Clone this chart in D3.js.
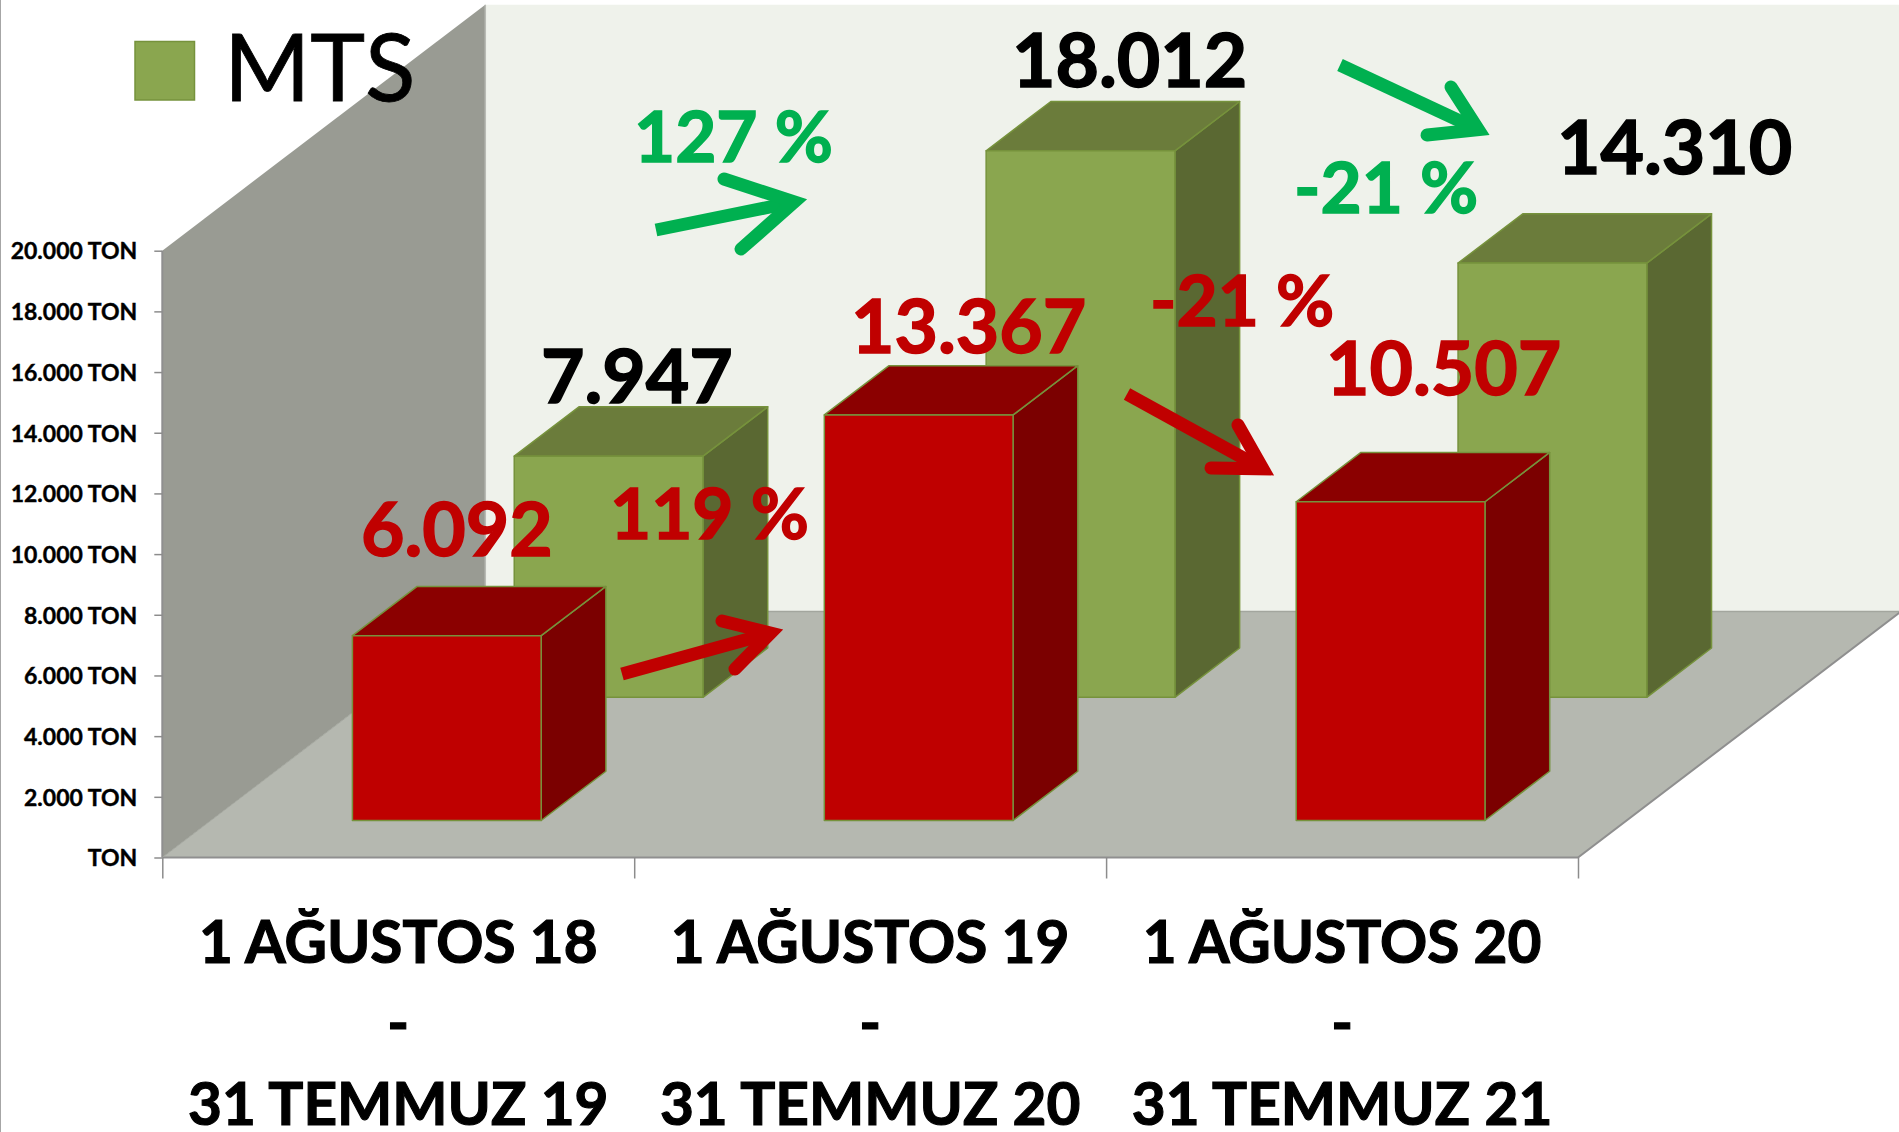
<!DOCTYPE html>
<html>
<head>
<meta charset="utf-8">
<script src="https://cdn.jsdelivr.net/npm/d3@7"></script>
<style>
  html, body { margin: 0; padding: 0; background: #fff; overflow: hidden; }
  svg { display: block; }
  text { font-family: Lato, "Open Sans", sans-serif; }
  .axis path { display: none; }
  .axis line { stroke: #8c8c8c; stroke-width: 1.5; }
</style>
</head>
<body>
<svg id="chart" width="1899" height="1132"></svg>
<script>
const category_starts = ["1 AĞUSTOS 18", "1 AĞUSTOS 19", "1 AĞUSTOS 20"];
const category_ends = ["31 TEMMUZ 19", "31 TEMMUZ 20", "31 TEMMUZ 21"];
const mts_values = [7947, 18012, 14310];
const red_values = [6092, 13367, 10507];
const y_ticks = [0, 2000, 4000, 6000, 8000, 10000, 12000, 14000, 16000, 18000, 20000];
const legend_name = "MTS";

// hand placed notes of the slide, they do not follow any scale
const pct_notes = [
  {text: "127 %", x: 634, y: 162, color: "#00b050"},
  {text: "-21 %", x: 1294, y: 213, color: "#00b050"},
  {text: "119 %", x: 610, y: 539, color: "#c00000"},
  {text: "-21 %", x: 1150, y: 326, color: "#c00000"},
];
const arrow_notes = [
  {from: [656, 230], tip: [809, 199], wings: [[724, 179], [741, 249]], color: "#00b050"},
  {from: [1340, 65], tip: [1492, 136], wings: [[1451, 87], [1427, 135]], color: "#00b050"},
  {from: [622, 674], tip: [785, 629], wings: [[722, 621], [735, 669]], color: "#c00000"},
  {from: [1127, 394], tip: [1276, 476], wings: [[1238, 425], [1211, 468]], color: "#c00000"},
];
const value_label_pos = {
  mts: [[541, 403], [1012, 87], [1557, 174]],
  red: [[361, 556], [851, 353], [1326, 395]],
};

const fmt = d3.formatLocale({decimal: ",", thousands: ".", grouping: [3], currency: ["", ""]}).format(",d");

const left = 162.3, right = 1578, y_base = 857.5, y_top = 250.7;
const depth_x = 323, depth_y = 246;

const y = d3.scaleLinear().domain([0, 20000]).range([y_base, y_top]);
const x = d3.scaleBand().domain(d3.range(3)).range([left, right]).paddingInner(0.6).paddingOuter(0.3);
const x_edges = d3.scaleLinear().domain([0, 3]).range([left, right]);
const z = d3.scaleBand().domain(["red", "mts"]).range([0, 1.002]).paddingInner(0.6).paddingOuter(0.3);

function project(px, value, depth) {
  return [px + depth * depth_x, y(value) - depth * depth_y];
}

let svg = d3.select("#chart");

// Lato bold is lighter than the original face, so thicken it with a stroke
function bold(sel, size, color, weight) {
  sel.attr("font-size", size).attr("font-weight", 700)
    .attr("fill", color).attr("stroke", color).attr("stroke-width", weight);
}

function polygon(points, fill, stroke) {
  svg.append("polygon")
    .attr("points", points.map((p) => p.join(",")).join(" "))
    .attr("fill", fill)
    .attr("stroke", stroke || "none")
    .attr("stroke-width", stroke ? 1.5 : 0)
    .attr("stroke-linejoin", "round");
}

// Room: back wall, left wall, floor
polygon([project(left, 20000, 1), [1899, project(left, 20000, 1)[1]], [1899, project(left, 0, 1)[1]], project(left, 0, 1)], "#eff2eb");
polygon([project(left, 0, 0), project(left, 20000, 0), project(left, 20000, 1), project(left, 0, 1)], "#999b93");
polygon([project(left, 0, 0), project(right, 0, 0), project(right, 0, 1), project(left, 0, 1)], "#b5b8b0");
svg.append("path")
  .attr("d", d3.line()([project(left, 0, 1), project(right, 0, 1)]))
  .attr("stroke", "#a3a69e").attr("stroke-width", 1.5);
svg.append("path")
  .attr("d", d3.line()([project(left, 0, 0), project(right, 0, 0), project(right, 0, 1)]))
  .attr("fill", "none").attr("stroke", "#8f8f8f").attr("stroke-width", 2);
svg.append("path")
  .attr("d", d3.line()([project(left, 0, 1), project(left, 20000, 1)]))
  .attr("stroke", "#b9bbb5").attr("stroke-width", 1.5);
svg.append("path")
  .attr("d", d3.line()([project(left, 0, 0), project(left, 20000, 0)]))
  .attr("stroke", "#8f8f8f").attr("stroke-width", 2);
svg.append("path")
  .attr("d", d3.line()([project(left, 0, 0), project(left, 0, 1)]))
  .attr("stroke", "#a3a69e").attr("stroke-width", 1);

// Axes
let y_axis = svg.append("g").attr("class", "axis")
  .attr("transform", `translate(${left},0)`)
  .call(d3.axisLeft(y).tickValues(y_ticks).tickSize(8).tickPadding(17)
    .tickFormat((d) => d === 0 ? "TON" : `${fmt(d)} TON`));
y_axis.selectAll("text").attr("dy", "0.36em").call(bold, 23, "#000", 0.4);

svg.append("g").attr("class", "axis")
  .attr("transform", `translate(0,${y_base})`)
  .call(d3.axisBottom(x_edges).tickValues([0, 1, 2, 3]).tickSize(21).tickFormat(""));

// Bars: the green row stands behind the red one
function draw_bars(values, key, front, top, side) {
  let z0 = z(key), z1 = z0 + z.bandwidth();
  values.forEach((v, i) => {
    let x0 = x(i), x1 = x0 + x.bandwidth();
    polygon([project(x1, 0, z0), project(x1, 0, z1), project(x1, v, z1), project(x1, v, z0)], side, "#76923c");
    polygon([project(x0, v, z0), project(x0, v, z1), project(x1, v, z1), project(x1, v, z0)], top, "#76923c");
    polygon([project(x0, 0, z0), project(x1, 0, z0), project(x1, v, z0), project(x0, v, z0)], front, "#76923c");
  });
}
draw_bars(mts_values, "mts", "#8aa64f", "#6b7c3b", "#5a6832");
draw_bars(red_values, "red", "#bf0000", "#8b0000", "#7b0000");

// Category labels
category_starts.forEach((label, i) => {
  let cx = x(i) + x.bandwidth() / 2;
  [[963, label], [1044, "-"], [1125, category_ends[i]]].forEach((line) => {
    svg.append("text").attr("x", cx).attr("y", line[0]).attr("text-anchor", "middle")
      .text(line[1]).call(bold, 58.5, "#000", 1.2);
  });
});

// Legend
svg.append("rect")
  .attr("x", 135).attr("y", 41.5).attr("width", 59.5).attr("height", 58.5)
  .attr("fill", "#8aa64f").attr("stroke", "#76923c").attr("stroke-width", 1.5);
svg.append("text").attr("x", 224).attr("y", 101)
  .attr("font-size", 93).attr("stroke", "#000").attr("stroke-width", 0.8).text(legend_name);

// Value labels
function draw_values(values, positions, color) {
  values.forEach((v, i) => {
    svg.append("text")
      .attr("x", positions[i][0]).attr("y", positions[i][1])
      .text(fmt(v)).call(bold, 75, color, 1.5);
  });
}
draw_values(mts_values, value_label_pos.mts, "#000");
draw_values(red_values, value_label_pos.red, "#c00000");

// Arrows, then percent notes
arrow_notes.forEach((a) => {
  let dx = a.tip[0] - a.from[0], dy = a.tip[1] - a.from[1];
  let len = Math.hypot(dx, dy);
  let back = [a.tip[0] - dx / len * 15, a.tip[1] - dy / len * 15];
  svg.append("path").attr("d", d3.line()([a.from, back]))
    .attr("fill", "none").attr("stroke", a.color).attr("stroke-width", 13);
  svg.append("path").attr("d", d3.line()([a.wings[0], back, a.wings[1]]))
    .attr("fill", "none").attr("stroke", a.color).attr("stroke-width", 13)
    .attr("stroke-linecap", "round").attr("stroke-linejoin", "miter").attr("stroke-miterlimit", 8);
});

pct_notes.forEach((n) => {
  svg.append("text").attr("x", n.x).attr("y", n.y)
    .text(n.text).call(bold, 71, n.color, 1.5);
});

// thin rule on the left edge of the slide
svg.append("line").attr("x1", 0.5).attr("x2", 0.5).attr("y1", 0).attr("y2", 1132)
  .attr("stroke", "#a6a6a6").attr("stroke-width", 1);
</script>
</body>
</html>
